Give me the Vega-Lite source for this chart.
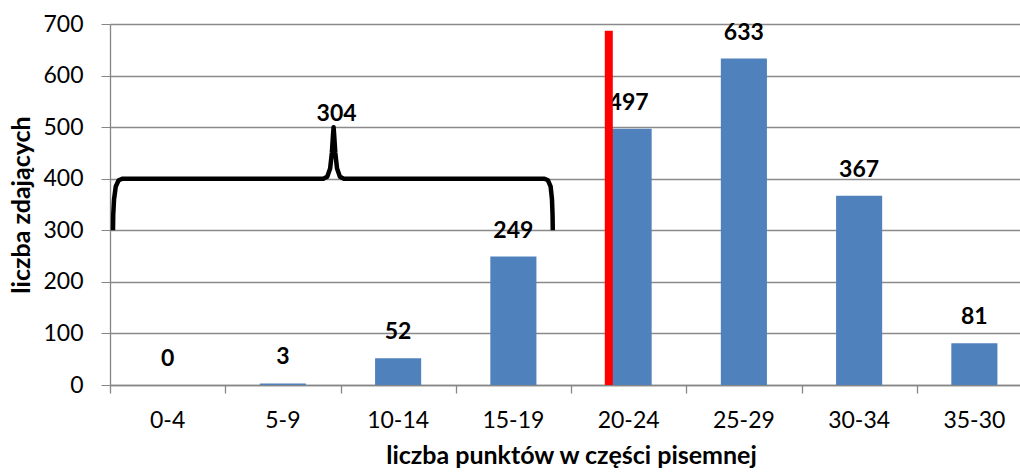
{
  "$schema": "https://vega.github.io/schema/vega-lite/v6.json",
  "width": 910,
  "height": 361,
  "autosize": "none",
  "padding": {"left": 110, "top": 24, "right": 0, "bottom": 88},
  "background": "white",
  "config": {
    "view": {"stroke": null},
    "font": "Lato",
    "axis": {"labelFont": "Lato", "titleFont": "Lato", "labelColor": "#000000", "titleColor": "#000000"}
  },
  "layer": [
    {
      "data": {"values": [
        {"cat": "0-4", "n": 0},
        {"cat": "5-9", "n": 3},
        {"cat": "10-14", "n": 52},
        {"cat": "15-19", "n": 249},
        {"cat": "20-24", "n": 497},
        {"cat": "25-29", "n": 633},
        {"cat": "30-34", "n": 367},
        {"cat": "35-30", "n": 81}
      ]},
      "encoding": {
        "x": {
          "field": "cat", "type": "nominal",
          "sort": ["0-4", "5-9", "10-14", "15-19", "20-24", "25-29", "30-34", "35-30"],
          "scale": {"range": [0, 922], "paddingInner": 0.6, "paddingOuter": 0.3},
          "axis": {
            "title": "liczba punktów w części pisemnej",
            "titleFontSize": 25, "titleFontWeight": "bold", "titlePadding": 11,
            "labelFontSize": 23, "labelAngle": 0, "labelPadding": 24,
            "ticks": false, "domainColor": "#868686", "domainWidth": 1.3,
            "grid": false, "orient": "bottom"
          }
        }
      },
      "layer": [
        {
          "mark": {"type": "bar", "color": "#4F81BD"},
          "encoding": {
            "y": {
              "field": "n", "type": "quantitative",
              "scale": {"domain": [0, 700], "nice": false},
              "axis": {
                "title": "liczba zdających",
                "titleFontSize": 25, "titleFontWeight": "bold", "titlePadding": 8,
                "values": [0, 100, 200, 300, 400, 500, 600, 700],
                "labelFontSize": 23, "labelPadding": 18, "tickSize": 9,
                "tickColor": "#868686", "domainColor": "#868686", "domainWidth": 1.3,
                "gridColor": "#8A8A8A", "gridWidth": 1.3
              }
            }
          }
        },
        {
          "mark": {"type": "text", "fontWeight": "bold", "fontSize": 23, "baseline": "middle", "dy": -26, "color": "#000000"},
          "encoding": {
            "y": {"field": "n", "type": "quantitative"},
            "text": {"field": "n", "type": "quantitative"}
          }
        },
        {
          "data": {"values": [{"cat": "20-24", "lo": 0, "hi": 687}]},
          "mark": {"type": "rule", "color": "#FF0000", "strokeWidth": 8},
          "encoding": {
            "x": {"field": "cat", "type": "nominal", "bandPosition": 0.07},
            "y": {"field": "lo", "type": "quantitative"},
            "y2": {"field": "hi"}
          }
        }
      ]
    },
    {
      "layer": [
        {
          "data": {"values": [
            {"o": 1, "u": 0.026, "v": 300},
            {"o": 2, "u": 0.028, "v": 330},
            {"o": 3, "u": 0.035, "v": 360},
            {"o": 4, "u": 0.05, "v": 385},
            {"o": 5, "u": 0.075, "v": 397},
            {"o": 6, "u": 0.11, "v": 400},
            {"o": 7, "u": 1.85, "v": 400},
            {"o": 8, "u": 1.885, "v": 404},
            {"o": 9, "u": 1.91, "v": 420},
            {"o": 10, "u": 1.925, "v": 450},
            {"o": 11, "u": 1.935, "v": 485},
            {"o": 12, "u": 1.94, "v": 500},
            {"o": 13, "u": 1.945, "v": 485},
            {"o": 14, "u": 1.955, "v": 450},
            {"o": 15, "u": 1.97, "v": 420},
            {"o": 16, "u": 1.995, "v": 404},
            {"o": 17, "u": 2.03, "v": 400},
            {"o": 18, "u": 3.77, "v": 400},
            {"o": 19, "u": 3.8, "v": 397},
            {"o": 20, "u": 3.823, "v": 385},
            {"o": 21, "u": 3.835, "v": 360},
            {"o": 22, "u": 3.84, "v": 330},
            {"o": 23, "u": 3.842, "v": 300}
          ]},
          "mark": {"type": "line", "color": "#000000", "strokeWidth": 4.5, "strokeJoin": "round", "strokeCap": "butt"},
          "encoding": {
            "x": {
              "field": "u", "type": "quantitative",
              "scale": {"domain": [0, 8], "range": [0, 922], "nice": false, "zero": false},
              "axis": {
                "orient": "bottom", "title": null, "labels": false, "grid": false, "domain": false,
                "values": [0, 1, 2, 3, 4, 5, 6, 7, 8], "tickSize": 8, "tickColor": "#868686", "tickWidth": 1.3
              }
            },
            "y": {"field": "v", "type": "quantitative"},
            "order": {"field": "o", "type": "quantitative"}
          }
        },
        {
          "data": {"values": [{"u": 1.966, "v": 525, "t": "304"}]},
          "mark": {"type": "text", "fontWeight": "bold", "fontSize": 23, "baseline": "middle", "color": "#000000"},
          "encoding": {
            "x": {"field": "u", "type": "quantitative"},
            "y": {"field": "v", "type": "quantitative"},
            "text": {"field": "t"}
          }
        }
      ]
    }
  ],
  "resolve": {"scale": {"x": "independent"}, "axis": {"x": "independent"}}
}
